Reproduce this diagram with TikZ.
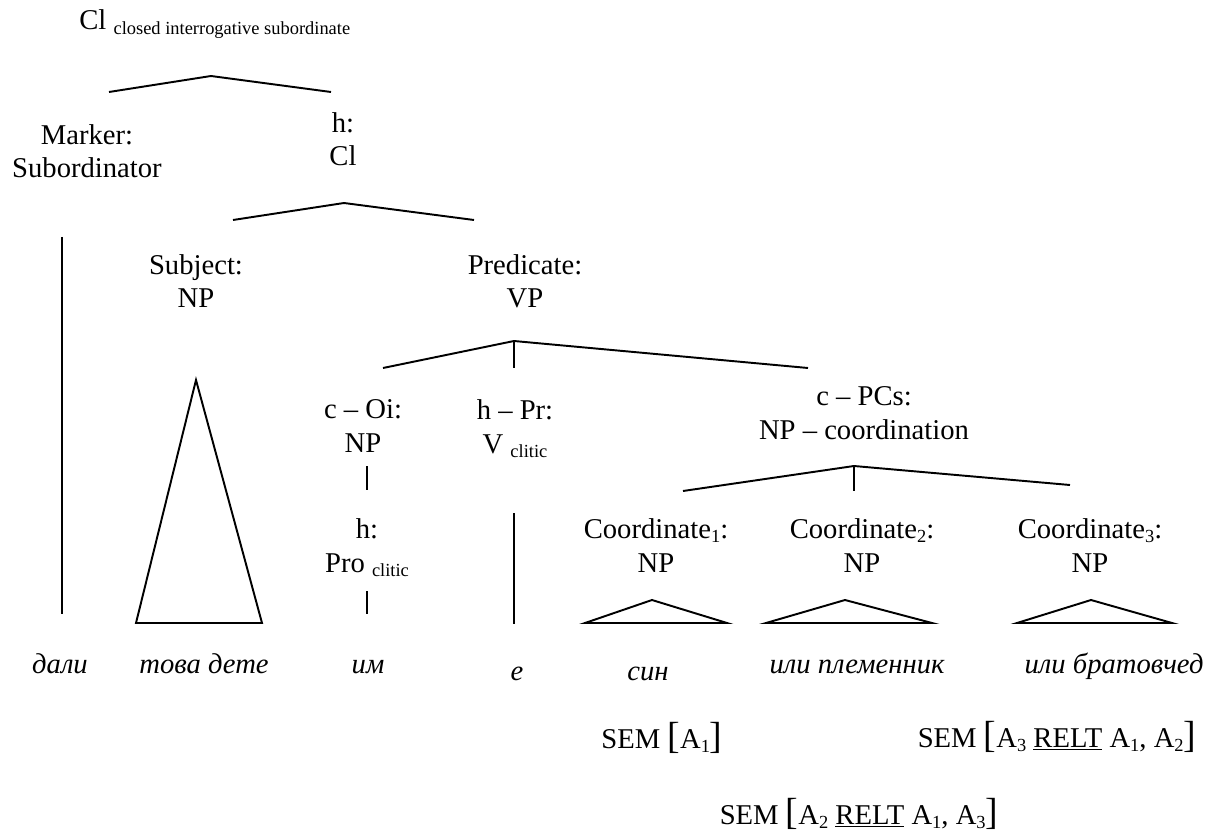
\documentclass[tikz,border=0pt]{standalone}
\usepackage{fontspec}
\setmainfont{Liberation Serif}
\usetikzlibrary{positioning}
\newcommand{\smallsub}[1]{\raisebox{-0.14em}{\fontsize{10.5}{12}\selectfont #1}}
\newcommand{\semL}{{\fontsize{21.5}{22}\selectfont[}}
\newcommand{\semR}{{\fontsize{21.5}{22}\selectfont]}}
\tikzset{
  lab/.style={font=\fontsize{16.3}{18.8}\selectfont,align=center,inner sep=0pt,anchor=base},
  leaf/.style={lab,font=\fontsize{16.3}{18.8}\selectfont\itshape},
  branch/.style={line width=1.1pt,line join=miter},
  roof/.style={branch,line join=miter}
}
\begin{document}
\begin{tikzpicture}[x=0.02cm,y=-0.02cm]
  \useasboundingbox (0,0) rectangle (1223,834);
  % category labels (base = last line)
  \node[lab,anchor=base west] (cl) at (79,30) {Cl \smallsub{closed interrogative subordinate}};
  \node[lab] (marker) at (87,178) {Marker:\\Subordinator};
  \node[lab] (hcl) at (343,166) {h:\\Cl};
  \node[lab] (subj) at (196,308) {Subject:\\NP};
  \node[lab] (pred) at (525,308) {Predicate:\\VP};
  \node[lab] (coi) at (363,452) {c -- Oi:\\NP};
  \node[lab] (hpr) at (515,453) {h -- Pr:\\V \smallsub{clitic}};
  \node[lab] (cpcs) at (864,439) {c -- PCs:\\NP -- coordination};
  \node[lab] (hpro) at (367,572) {h:\\Pro \smallsub{clitic}};
  \node[lab] (coord1) at (656,572) {Coordinate\smallsub{1}:\\NP};
  \node[lab] (coord2) at (862,572) {Coordinate\smallsub{2}:\\NP};
  \node[lab] (coord3) at (1090,572) {Coordinate\smallsub{3}:\\NP};
  % words
  \node[leaf] (dali) at (60,673) {дали};
  \node[leaf] (tova) at (204,673) {това дете};
  \node[leaf] (im) at (368,673) {им};
  \node[leaf] (e) at (517,680) {е};
  \node[leaf] (sin) at (648,680) {син};
  \node[leaf] (plem) at (857,673) {или племенник};
  \node[leaf] (brat) at (1114,673) {или братовчед};
  % semantics
  \node[lab] (sem1) at (662,748) {SEM \semL A\smallsub{1}\semR};
  \node[lab] (sem3) at (1057,747) {SEM \semL A\smallsub{3} \underline{RELT} A\smallsub{1}, A\smallsub{2}\semR};
  \node[lab] (sem2) at (859,824) {SEM \semL A\smallsub{2} \underline{RELT} A\smallsub{1}, A\smallsub{3}\semR};
  % branching points
  \coordinate (clT) at (211,76); \coordinate (clL) at (109,92); \coordinate (clR) at (331,92);
  \coordinate (hT) at (344,203); \coordinate (hL) at (233,220); \coordinate (hR) at (474,220);
  \coordinate (vpT) at (514,341); \coordinate (vpL) at (383,368); \coordinate (vpM) at (514,368); \coordinate (vpR) at (808,368);
  \coordinate (coT) at (854,466); \coordinate (coL) at (683,491); \coordinate (coM) at (854,491); \coordinate (coR) at (1070,485);
  \draw[branch] (clL) -- (clT) -- (clR);
  \draw[branch] (hL) -- (hT) -- (hR);
  \draw[branch] (vpL) -- (vpT) -- (vpR); \draw[branch] (vpT) -- (vpM);
  \draw[branch] (coL) -- (coT) -- (coR); \draw[branch] (coT) -- (coM);
  % unary lines
  \coordinate (mkTop) at (62,237); \coordinate (mkBot) at (62,614);
  \coordinate (oiTop) at (367,466); \coordinate (oiBot) at (367,490);
  \coordinate (proTop) at (367,591); \coordinate (proBot) at (367,614);
  \coordinate (prTop) at (514,513); \coordinate (prBot) at (514,624);
  \draw[branch] (mkTop) -- (mkBot);
  \draw[branch] (oiTop) -- (oiBot);
  \draw[branch] (proTop) -- (proBot);
  \draw[branch] (prTop) -- (prBot);
  % roofs
  \coordinate (sjT) at (196,380); \coordinate (sjL) at (136,623); \coordinate (sjR) at (262,623);
  \draw[roof] (sjT) -- (sjL) -- (sjR) -- cycle;
  \foreach \n/\ax/\lx/\rx in {1/652/585/727,2/845/766/932,3/1091/1017/1172}{
    \coordinate (top\n) at (\ax,600);
    \coordinate (bl\n) at (\lx,623);
    \coordinate (br\n) at (\rx,623);
    \draw[roof] (top\n) -- (bl\n) -- (br\n) -- cycle;
  }
\end{tikzpicture}
\end{document}
